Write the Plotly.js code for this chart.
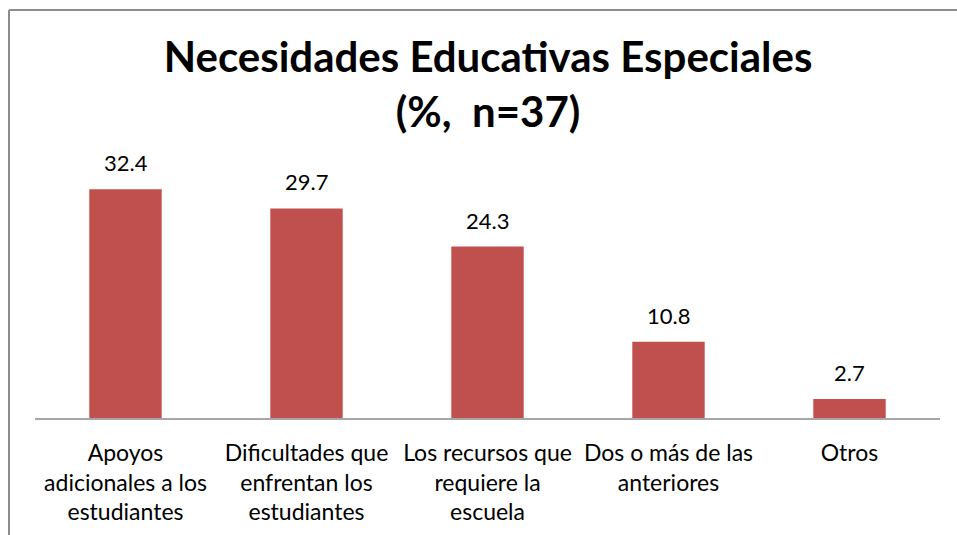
<!DOCTYPE html>
<html>
<head>
<meta charset="utf-8">
<script src="https://cdn.plot.ly/plotly-3.0.1.min.js"></script>
<style>html,body{margin:0;padding:0;background:#fff;}#chart{width:957px;height:535px;}</style>
</head>
<body>
<div id="chart"></div>
<script>
var categories = [
  "Apoyos<br>adicionales a los<br>estudiantes",
  "Dificultades que<br>enfrentan los<br>estudiantes",
  "Los recursos que<br>requiere la<br>escuela",
  "Dos o más de las<br>anteriores",
  "Otros"
];
var values = [32.4, 29.7, 24.3, 10.8, 2.7];
var valueLabels = ["32.4", "29.7", "24.3", "10.8", "2.7"];

var W = 957, H = 535, ml = 35, mr = 17, mt = 171, mb = 117;
var pw = W - ml - mr, ph = H - mt - mb;
function px(x){ return (x - ml) / pw; }
function py(y){ return (H - mb - y) / ph; }

var trace = {
  type: "bar",
  x: categories,
  y: values,
  marker: {color: "#C0504D"},
  hoverinfo: "none"
};

var annotations = categories.map(function(c, i){
  return {
    x: c, y: values[i], xref: "x", yref: "y",
    text: valueLabels[i], showarrow: false,
    yanchor: "bottom", yshift: 11,
    font: {family: "Lato, 'Open Sans', sans-serif", size: 22, color: "#000"}
  };
});

var layout = {
  width: W, height: H,
  margin: {l: ml, r: mr, t: mt, b: mb, pad: 0},
  paper_bgcolor: "#fff", plot_bgcolor: "#fff",
  title: {
    text: "<b>Necesidades Educativas Especiales<br>(%,  n=37)</b>",
    x: 0.51, xanchor: "center", y: 1 - 72/H, yanchor: "top",
    font: {family: "Lato, 'Open Sans', sans-serif", size: 42, color: "#000"}
  },
  bargap: 0.6,
  showlegend: false,
  xaxis: {
    showline: true, linecolor: "#a6a6a6", linewidth: 2,
    ticks: "outside", ticklen: 13, tickcolor: "rgba(0,0,0,0)",
    tickfont: {family: "Lato, 'Open Sans', sans-serif", size: 23, color: "#000"},
    showgrid: false, zeroline: false, fixedrange: true
  },
  yaxis: {
    range: [0, 35], visible: false, showgrid: false, zeroline: false, fixedrange: true
  },
  annotations: annotations,
  shapes: [
    {type: "line", xref: "paper", yref: "paper", x0: px(9), x1: px(9), y0: py(10), y1: py(H), line: {color: "#8c8c8c", width: 2}},
    {type: "line", xref: "paper", yref: "paper", x0: px(9), x1: px(W), y0: py(10), y1: py(10), line: {color: "#8c8c8c", width: 2}}
  ]
};

Plotly.newPlot("chart", [trace], layout, {displayModeBar: false, staticPlot: true});
</script>
</body>
</html>
